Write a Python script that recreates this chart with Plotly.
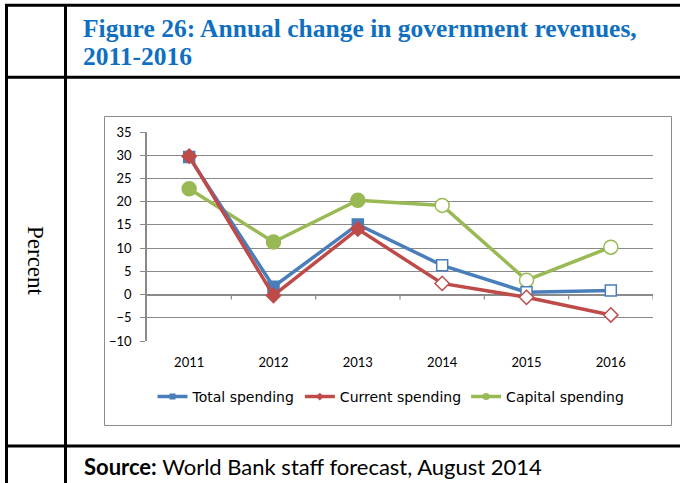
import plotly.graph_objects as go

# Annual change (%) by year; 2014-2016 are forecasts (hollow markers)
years = [2011, 2012, 2013, 2014, 2015, 2016]
total_spending = [29.6, 1.7, 15.1, 6.3, 0.5, 0.9]
current_spending = [29.8, -0.2, 14.1, 2.4, -0.6, -4.4]
capital_spending = [22.8, 11.3, 20.3, 19.2, 3.1, 10.2]
forecast_from = 2014

y_ticks = list(range(-10, 40, 5))

W, H = 680, 483
PL, PR, PT, PB = 147, 653, 132, 341  # plot area in pixels


def fx(px):
    return (px - PL) / (PR - PL)


def fy(py):
    return (PB - py) / (PB - PT)


BLUE = "#4A7EBB"
RED = "#BE4B48"
GREEN = "#98B954"
GRID = "#8A8A8A"

fig = go.Figure()


def add_series(name, vals, color, symbol, size):
    fills = [color if yr < forecast_from else "white" for yr in years]
    fig.add_trace(go.Scatter(
        x=years, y=vals, mode="lines+markers", name=name, showlegend=False,
        line=dict(color=color, width=3.5),
        marker=dict(symbol=symbol, size=size, color=fills,
                    line=dict(color=color, width=1.5)),
    ))


add_series("Capital spending", capital_spending, GREEN, "circle", 14)
add_series("Total spending", total_spending, BLUE, "square", 11)
add_series("Current spending", current_spending, RED, "diamond", 11)

# legend entries (small markers, as in the chart key)
for name, color, symbol, size in [("Total spending", BLUE, "square", 6),
                                  ("Current spending", RED, "diamond", 6),
                                  ("Capital spending", GREEN, "circle", 7)]:
    fig.add_trace(go.Scatter(
        x=[None], y=[None], mode="lines+markers", name=name,
        line=dict(color=color, width=3.5),
        marker=dict(symbol=symbol, size=size, color=color),
    ))

shapes = []
# category tick marks hanging below the zero line
for b in [2011.5, 2012.5, 2013.5, 2014.5, 2015.5, 2016.5]:
    shapes.append(dict(type="line", xref="x", yref="y", x0=b, x1=b,
                       y0=0, y1=-1.05, line=dict(color=GRID, width=1.2)))
# chart frame
shapes.append(dict(type="rect", xref="paper", yref="paper",
                   x0=fx(104.5), x1=fx(671.5), y0=fy(116.5), y1=fy(425.5),
                   line=dict(color="#8C8C8C", width=1), layer="below"))
# table rules
TB = dict(color="black", width=3)
for yy in [5.3, 77.3, 446]:
    shapes.append(dict(type="line", xref="paper", yref="paper",
                       x0=fx(5), x1=fx(685), y0=fy(yy), y1=fy(yy), line=TB))
for xx in [6.5, 65.5]:
    shapes.append(dict(type="line", xref="paper", yref="paper",
                       x0=fx(xx), x1=fx(xx), y0=fy(4), y1=fy(490), line=TB))

TITLE_FONT = dict(family="Liberation Serif", size=25.5, color="#0F6FC0")
annotations = [
    dict(text="<b>Figure 26: Annual change in government revenues,</b>",
         xref="paper", yref="paper", x=fx(81), y=fy(28), xanchor="left",
         yanchor="middle", align="left", showarrow=False, font=TITLE_FONT),
    dict(text="<b>2011-2016</b>",
         xref="paper", yref="paper", x=fx(81), y=fy(56), xanchor="left",
         yanchor="middle", align="left", showarrow=False, font=TITLE_FONT),
    dict(text="Percent", textangle=90, xref="paper", yref="paper",
         x=fx(36), y=fy(261), xanchor="center", yanchor="middle",
         showarrow=False,
         font=dict(family="Liberation Serif", size=23, color="black")),
    dict(text="<b>Source:</b> World Bank staff forecast, August 2014",
         xref="paper", yref="paper", x=fx(82), y=fy(466), xanchor="left",
         yanchor="middle", showarrow=False,
         font=dict(family="Lato", size=22, color="black")),
]

fig.update_layout(
    width=W, height=H,
    margin=dict(l=PL, r=W - PR, t=PT, b=H - PB, pad=0),
    paper_bgcolor="white", plot_bgcolor="white",
    font=dict(family="Lato", color="black"),
    shapes=shapes, annotations=annotations,
    legend=dict(orientation="h", x=fx(391), y=fy(397), xanchor="center",
                yanchor="middle", font=dict(family="DejaVu Sans", size=14),
                itemwidth=30, bgcolor="rgba(0,0,0,0)"),
    xaxis=dict(range=[2010.5, 2016.5], tickvals=years,
               ticktext=[str(y) for y in years], showgrid=False,
               zeroline=False, showline=False, ticks="",
               ticklabelstandoff=12, tickfont=dict(size=13, family="Lato")),
    yaxis=dict(range=[-10, 35], tickvals=y_ticks, showgrid=True,
               gridcolor=GRID, gridwidth=1, zeroline=True,
               zerolinecolor=GRID, zerolinewidth=1.5, showline=True,
               linecolor=GRID, linewidth=1.5, ticks="outside", ticklen=5,
               tickcolor=GRID, ticklabelstandoff=6,
               tickfont=dict(size=13, family="Lato")),
)

fig.write_html("out.html")
